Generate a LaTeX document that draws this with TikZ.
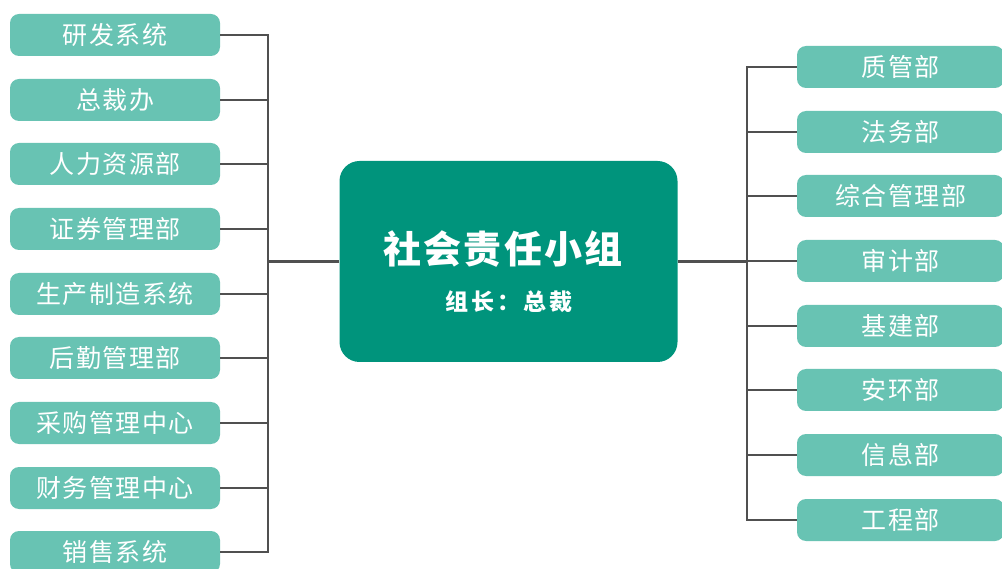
\documentclass[tikz,border=0pt]{standalone}
\usepackage{fontspec}
\setmainfont{Noto Sans CJK SC}
\definecolor{deptc}{RGB}{104,195,179}
\definecolor{mainc}{RGB}{0,148,124}
\definecolor{linec}{RGB}{80,80,80}
\begin{document}
\begin{tikzpicture}[x=1pt,y=-1pt,
  dept/.style={fill=deptc, rounded corners=9pt, minimum width=210pt, minimum height=42pt, inner sep=0pt, text=white,
    font=\fontsize{25}{25}\selectfont\addfontfeature{LetterSpace=6}},
  mainbox/.style={fill=mainc, rounded corners=20pt, minimum width=338pt, minimum height=201pt, inner sep=0pt},
  title/.style={text=white, inner sep=0pt, font=\fontsize{38}{38}\selectfont\bfseries\addfontfeature{LetterSpace=6}},
  subtitle/.style={text=white, inner sep=0pt, font=\fontsize{23}{23}\selectfont\bfseries\addfontfeature{LetterSpace=13}},
  link/.style={draw=linec, line width=2.7pt}]
\useasboundingbox (0,0) rectangle (1002,569);

% centre
\node[mainbox] (c) at (508.5,261.5) {};
\node[title] (ct) at (503,249) {社会责任小组};
\node[subtitle] (cs) at (509,302) {组长：总裁};

% left departments
\node[dept] (l1) at (115,35) {研发系统};
\node[dept] (l2) at (115,100) {总裁办};
\node[dept] (l3) at (115,164) {人力资源部};
\node[dept] (l4) at (115,229) {证券管理部};
\node[dept] (l5) at (115,294) {生产制造系统};
\node[dept] (l6) at (115,358) {后勤管理部};
\node[dept] (l7) at (115,423) {采购管理中心};
\node[dept] (l8) at (115,488) {财务管理中心};
\node[dept] (l9) at (115,552) {销售系统};

% right departments
\node[dept, minimum width=207pt] (r1) at (900.5,67) {质管部};
\node[dept, minimum width=207pt] (r2) at (900.5,132) {法务部};
\node[dept, minimum width=207pt] (r3) at (900.5,196) {综合管理部};
\node[dept, minimum width=207pt] (r4) at (900.5,261) {审计部};
\node[dept, minimum width=207pt] (r5) at (900.5,326) {基建部};
\node[dept, minimum width=207pt] (r6) at (900.5,390) {安环部};
\node[dept, minimum width=207pt] (r7) at (900.5,455) {信息部};
\node[dept, minimum width=207pt] (r8) at (900.5,520) {工程部};

% bus coordinates
\coordinate (lb) at (268,552);
\coordinate (rb) at (747,520);

% left connectors
\draw[link] (l1.east) -| (lb) -- (l9.east);
\foreach \i in {2,...,8} {\draw[link] (l\i.east) -- (l\i.east -| lb);}
\draw[link] (c.west) -- (c.west -| lb);

% right connectors
\draw[link] (r1.west) -| (rb) -- (r8.west);
\foreach \i in {2,...,7} {\draw[link] (r\i.west) -- (r\i.west -| rb);}
\draw[link] (c.east) -- (c.east -| rb);
\end{tikzpicture}
\end{document}
